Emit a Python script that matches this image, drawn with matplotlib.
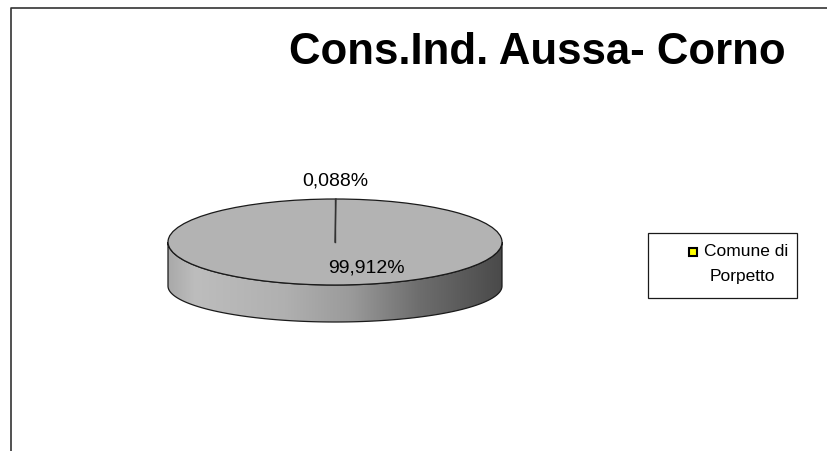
import matplotlib
matplotlib.use("Agg")
import matplotlib.pyplot as plt
import numpy as np
from matplotlib.patches import Ellipse, Rectangle, Polygon
from matplotlib.colors import LinearSegmentedColormap

plt.rcParams["font.family"] = ["Liberation Sans", "DejaVu Sans"]

# data
title = "Cons.Ind. Aussa- Corno"
shares = [0.088, 99.912]          # percent, first slice starts at 12 o'clock
legend_labels = ["Comune di\nPorpetto"]
legend_colors = ["#ffff00"]

# pie geometry (pixels, y down)
cx, cy = 335, 242
rx, ry = 167, 43
depth = 44
ry_bottom = 36
top_color = "#b3b3b3"
edge_color = "#1a1a1a"

fig = plt.figure(figsize=(8.27, 4.51), dpi=100)
ax = fig.add_axes([0, 0, 1, 1])

# side of the cylinder, with a horizontal gradient
theta_a = np.linspace(np.pi, 0, 200)
theta_b = np.linspace(0, np.pi, 200)
side_x = np.concatenate([cx + rx * np.cos(theta_a), cx + rx * np.cos(theta_b)])
side_y = np.concatenate([cy + ry * np.sin(theta_a),
                         cy + depth + ry_bottom * np.sin(theta_b)])
side = Polygon(np.column_stack([side_x, side_y]), closed=True,
               facecolor="none", edgecolor=edge_color, lw=0.9, zorder=3)
ax.add_patch(side)

side_cmap = LinearSegmentedColormap.from_list(
    "side", [(0.0, "#a9a9a9"), (0.08, "#bdbdbd"), (0.35, "#b0b0b0"),
             (0.55, "#9a9a9a"), (0.75, "#6e6e6e"), (1.0, "#4a4a4a")])
grad = np.linspace(0, 1, 256).reshape(1, -1)
img = ax.imshow(grad, cmap=side_cmap, aspect="auto", interpolation="bilinear",
                extent=(cx - rx, cx + rx, cy + depth + ry_bottom + 2, cy - 2),
                zorder=2)
img.set_clip_path(side)

# top face
top = Ellipse((cx, cy), 2 * rx, 2 * ry, facecolor=top_color,
              edgecolor=edge_color, lw=0.9, zorder=4)
ax.add_patch(top)

# slice borders, clockwise from 12 o'clock
cum = np.concatenate([[0], np.cumsum(shares)])
for c in cum[:-1]:
    ang = np.deg2rad(90 - 360 * c / 100)
    ax.plot([cx, cx + rx * np.cos(ang)], [cy, cy - ry * np.sin(ang)],
            color="#333333", lw=1.0, zorder=5)

# percentage labels
label_factor = [1.42, 0.6]
label_dx = [0, 32]
for i, v in enumerate(shares):
    mid = np.deg2rad(90 - 360 * (cum[i] + v / 2) / 100)
    lx = cx + rx * label_factor[i] * np.cos(mid) + label_dx[i]
    ly = cy - ry * label_factor[i] * np.sin(mid)
    txt = f"{v:.3f}%".replace(".", ",")
    ax.text(lx, ly, txt, fontsize=14, ha="center", va="center", zorder=6)

# legend box
ax.add_patch(Rectangle((648, 233), 149, 65, facecolor="white",
                       edgecolor=edge_color, lw=0.9, zorder=5))
for lab, col in zip(legend_labels, legend_colors):
    ax.add_patch(Rectangle((689, 248), 8, 8, facecolor=col,
                           edgecolor="black", lw=1.5, zorder=6))
    lines = lab.split("\n")
    ax.text(746, 252, lines[0], fontsize=12.5, ha="center", va="center", zorder=6)
    ax.text(742, 277, lines[1], fontsize=12.5, ha="center", va="center", zorder=6)

# outer chart frame (only left and top visible)
ax.plot([11, 11, 827], [451, 8, 8], color="#333333", lw=1.2, zorder=1)

ax.text(537, 64, title, fontsize=31.5, fontweight="bold", ha="center",
        va="baseline", zorder=6)

ax.set_xlim(0, 827)
ax.set_ylim(451, 0)
ax.axis("off")

fig.savefig("out.png", dpi=100)
plt.close(fig)
